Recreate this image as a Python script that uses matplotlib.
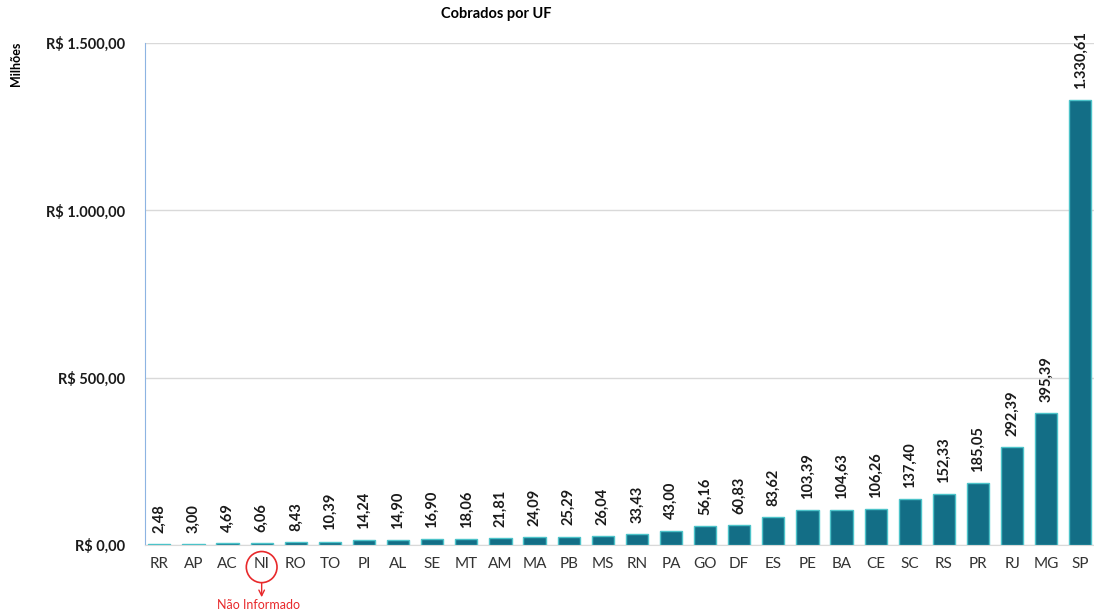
import matplotlib.pyplot as plt
import matplotlib.ticker as mticker
from matplotlib.patches import Ellipse

# data (milhoes de R$)
ufs = ['RR', 'AP', 'AC', 'NI', 'RO', 'TO', 'PI', 'AL', 'SE', 'MT', 'AM', 'MA', 'PB', 'MS',
       'RN', 'PA', 'GO', 'DF', 'ES', 'PE', 'BA', 'CE', 'SC', 'RS', 'PR', 'RJ', 'MG', 'SP']
values = [2.48, 3.00, 4.69, 6.06, 8.43, 10.39, 14.24, 14.90, 16.90, 18.06, 21.81, 24.09,
          25.29, 26.04, 33.43, 43.00, 56.16, 60.83, 83.62, 103.39, 104.63, 106.26, 137.40,
          152.33, 185.05, 292.39, 395.39, 1330.61]
y_ticks = [0, 500, 1000, 1500]


def brl(v, decimals=2):
    s = f"{v:,.{decimals}f}"
    return s.replace(',', 'X').replace('.', ',').replace('X', '.')


plt.rcParams['font.family'] = ['Lato', 'DejaVu Sans']

fig = plt.figure(figsize=(10.94, 6.16), dpi=100)
ax = fig.add_axes([145 / 1094, 1 - 545 / 616, (1094 - 145) / 1094, (545 - 43) / 616])

x = list(range(len(ufs)))
ax.bar(x, values, width=0.65, color='#136E86', edgecolor='#4CC3C9', linewidth=1.0, zorder=3)

for xi, v in zip(x, values):
    ax.annotate(brl(v), (xi, v), xytext=(0, 8), textcoords='offset points',
                rotation=90, ha='center', va='bottom',
                fontsize=10.5, fontweight='bold', color='#1a1a1a')

ax.set_xlim(-0.42, len(ufs) - 0.6)
ax.set_ylim(0, 1500)
ax.set_xticks(x)
ax.set_xticklabels(ufs, fontsize=11, color='#333333')
ax.set_yticks(y_ticks)
ax.yaxis.set_major_formatter(mticker.FuncFormatter(lambda v, p: 'R$ ' + brl(v)))
for lbl in ax.get_yticklabels():
    lbl.set_fontweight('bold')
    lbl.set_fontsize(10.5)
    lbl.set_color('#1a1a1a')
ax.tick_params(axis='both', length=0)
ax.tick_params(axis='x', pad=9)
ax.tick_params(axis='y', pad=14)

ax.grid(axis='y', color='#D9D9D9', linewidth=1, zorder=0)
for side in ['top', 'right']:
    ax.spines[side].set_visible(False)
ax.spines['bottom'].set_color('#D9D9D9')
ax.spines['left'].set_color('#8DB4E2')

fig.text(496 / 1094, 1 - 14 / 616, 'Cobrados por UF', ha='center', va='center',
         fontsize=10.5, fontweight='bold')
fig.text(16 / 1094, 1 - 64 / 616, 'Milhões', ha='center', va='center', rotation=90,
         fontsize=9, fontweight='bold')

# destaque "Nao Informado"
ni = ufs.index('NI')
trans = ax.get_xaxis_transform()
ax.add_patch(Ellipse((ni, -0.044), 0.9, 0.062, transform=trans, fill=False,
                     edgecolor='#E8292B', linewidth=1.2, clip_on=False))
ax.annotate('', xy=(ni, -0.104), xytext=(ni, -0.075), xycoords=trans, textcoords=trans,
            arrowprops=dict(arrowstyle='->', color='#E8292B', lw=1, shrinkA=0, shrinkB=0))
ax.text(ni - 0.1, -0.119, 'Não Informado', transform=trans, ha='center', va='center',
        fontsize=9, color='#E8292B')

plt.savefig('out.png', dpi=100)
